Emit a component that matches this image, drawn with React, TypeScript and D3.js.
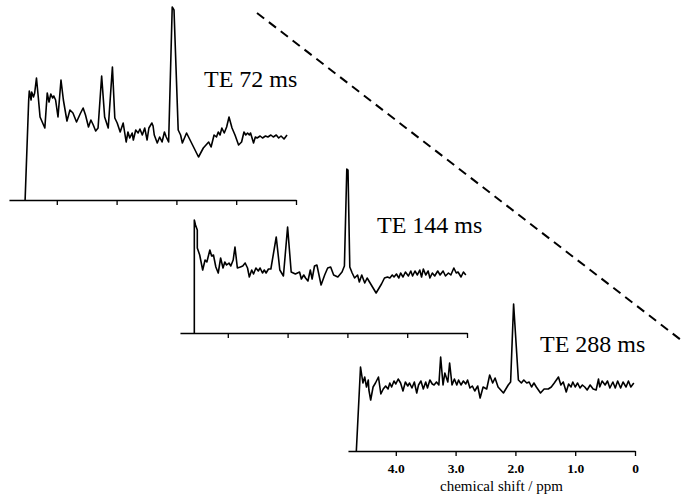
import { useEffect, useRef } from 'react';
import * as d3 from 'd3';

// [chemical shift (ppm), intensity (a.u.)]
const te72 = [
  [4.53, 0], [4.47, 100], [4.46, 109], [4.43, 100], [4.42, 108], [4.39, 103], [4.37, 107], [4.34, 122],
  [4.31, 103], [4.28, 83], [4.2, 72], [4.16, 107], [4.13, 98], [4.1, 106], [4.07, 102], [4.05, 104],
  [4.02, 100], [3.98, 83], [3.93, 120], [3.89, 100], [3.83, 79], [3.78, 90], [3.73, 87], [3.67, 78],
  [3.61, 86], [3.56, 92], [3.52, 85], [3.47, 73], [3.43, 80], [3.39, 75], [3.35, 69], [3.31, 72],
  [3.25, 124], [3.2, 83], [3.14, 72], [3.07, 133], [3.03, 82], [2.99, 77], [2.94, 68], [2.89, 77],
  [2.84, 58], [2.81, 68], [2.78, 62], [2.74, 67], [2.72, 60], [2.68, 70], [2.64, 67], [2.61, 71],
  [2.57, 65], [2.53, 72], [2.49, 60], [2.46, 72], [2.41, 77], [2.39, 74], [2.37, 65], [2.32, 57],
  [2.28, 63], [2.24, 58], [2.2, 68], [2.17, 63], [2.13, 58], [2.07, 193], [2.04, 190], [1.97, 70],
  [1.93, 65], [1.9, 57], [1.83, 67], [1.63, 43], [1.55, 52], [1.46, 58], [1.42, 53], [1.37, 65],
  [1.33, 63], [1.3, 68], [1.27, 65], [1.24, 72], [1.2, 67], [1.16, 73], [1.12, 83], [1.07, 72],
  [1.02, 65], [0.96, 55], [0.91, 58], [0.87, 68], [0.84, 65], [0.81, 67], [0.78, 65], [0.76, 67],
  [0.71, 57], [0.68, 63], [0.65, 62], [0.6, 64], [0.56, 62], [0.51, 64], [0.47, 63], [0.42, 65],
  [0.38, 63], [0.33, 65], [0.29, 62], [0.25, 64], [0.2, 61], [0.15, 65],
];

const te144 = [
  [4.56, 0], [4.56, 113], [4.54, 108], [4.51, 103], [4.51, 85], [4.47, 78], [4.42, 63], [4.38, 73],
  [4.35, 71], [4.3, 83], [4.27, 77], [4.24, 78], [4.2, 66], [4.16, 60], [4.12, 75], [4.08, 65],
  [4.05, 71], [4.02, 68], [3.98, 70], [3.95, 67], [3.91, 73], [3.88, 86], [3.84, 65], [3.79, 66],
  [3.75, 67], [3.71, 70], [3.67, 65], [3.64, 56], [3.6, 63], [3.57, 59], [3.53, 65], [3.49, 62],
  [3.46, 65], [3.42, 60], [3.39, 63], [3.36, 60], [3.32, 64], [3.28, 64], [3.19, 96], [3.13, 63],
  [3.07, 57], [3.0, 106], [2.94, 61], [2.87, 59], [2.8, 61], [2.77, 54], [2.73, 58], [2.7, 55],
  [2.66, 52], [2.62, 63], [2.59, 54], [2.55, 67], [2.51, 68], [2.44, 48], [2.38, 58], [2.33, 65],
  [2.28, 66], [2.23, 58], [2.16, 56], [2.09, 61], [2.05, 67], [2.01, 164], [1.99, 163], [1.96, 66],
  [1.92, 60], [1.88, 55], [1.83, 58], [1.8, 51], [1.76, 58], [1.71, 50], [1.67, 55], [1.6, 48],
  [1.52, 40], [1.43, 49], [1.38, 55], [1.33, 56], [1.29, 55], [1.25, 58], [1.22, 56], [1.18, 59],
  [1.14, 55], [1.11, 60], [1.07, 56], [1.03, 61], [0.98, 57], [0.94, 62], [0.91, 57], [0.87, 62],
  [0.83, 58], [0.79, 63], [0.76, 56], [0.73, 64], [0.69, 58], [0.65, 62], [0.62, 55], [0.58, 60],
  [0.54, 57], [0.49, 62], [0.45, 58], [0.4, 62], [0.36, 57], [0.31, 60], [0.27, 58], [0.22, 65],
  [0.18, 60], [0.15, 61], [0.1, 56], [0.06, 61], [0.02, 58],
];

const te288 = [
  [4.66, 0], [4.59, 84], [4.55, 68], [4.52, 74], [4.49, 64], [4.46, 71], [4.45, 61], [4.42, 51],
  [4.38, 64], [4.34, 68], [4.29, 74], [4.25, 57], [4.21, 62], [4.17, 65], [4.13, 62], [4.1, 68],
  [4.07, 64], [4.03, 70], [4.0, 67], [3.96, 72], [3.92, 68], [3.88, 60], [3.84, 69], [3.8, 65],
  [3.77, 68], [3.73, 63], [3.69, 69], [3.65, 58], [3.62, 66], [3.58, 70], [3.54, 62], [3.5, 69],
  [3.47, 63], [3.43, 71], [3.39, 67], [3.36, 66], [3.32, 69], [3.28, 66], [3.25, 94], [3.21, 66],
  [3.18, 78], [3.13, 69], [3.1, 88], [3.06, 66], [3.02, 72], [2.98, 66], [2.95, 71], [2.91, 66],
  [2.87, 70], [2.83, 67], [2.8, 71], [2.76, 63], [2.72, 65], [2.68, 60], [2.63, 65], [2.59, 53],
  [2.54, 64], [2.48, 62], [2.43, 76], [2.38, 68], [2.34, 73], [2.29, 64], [2.2, 58], [2.12, 66],
  [2.08, 69], [2.03, 147], [1.95, 71], [1.9, 68], [1.86, 71], [1.81, 68], [1.77, 69], [1.73, 64],
  [1.69, 68], [1.65, 64], [1.58, 58], [1.52, 62], [1.45, 62], [1.4, 64], [1.35, 68], [1.28, 74],
  [1.24, 66], [1.2, 69], [1.15, 59], [1.11, 67], [1.07, 64], [1.04, 69], [1.0, 64], [0.96, 68],
  [0.92, 63], [0.88, 66], [0.84, 64], [0.8, 61], [0.75, 66], [0.7, 62], [0.65, 61], [0.61, 72],
  [0.59, 64], [0.55, 70], [0.5, 66], [0.46, 70], [0.42, 63], [0.37, 69], [0.33, 63], [0.29, 70],
  [0.24, 63], [0.2, 69], [0.15, 64], [0.11, 70], [0.07, 64], [0.02, 68],
];

const echoLabels = ['TE 72 ms', 'TE 144 ms', 'TE 288 ms'];
const tickValues = [4, 3, 2, 1, 0];
const tickLabels = ['4.0', '3.0', '2.0', '1.0', '0'];
const ppmDomain = [4.8, 0];
const axisTitle = 'chemical shift / ppm';

// where each stacked panel sits on the page
const layout = [
  { zeroX: 296, axisY: 200, labelX: 204, labelY: 87 },
  { zeroX: 467, axisY: 333, labelX: 377, labelY: 233 },
  { zeroX: 635, axisY: 451, labelX: 540, labelY: 352 },
];

const W = 681;
const H = 496;
const pxPerPpm = 59.8;
const serif = '"Liberation Serif", "Times New Roman", serif';

const App = () => {
  const ref = useRef<SVGSVGElement | null>(null);

  useEffect(() => {
    const svg = d3.select(ref.current);
    svg.selectAll('*').remove();

    const spectra = [te72, te144, te288];

    spectra.forEach((data, i) => {
      const p = layout[i];
      const x = d3.scaleLinear()
        .domain(ppmDomain)
        .range([p.zeroX - ppmDomain[0] * pxPerPpm, p.zeroX]);
      const y = d3.scaleLinear().domain([0, 200]).range([p.axisY, p.axisY - 200]);

      const last = i === spectra.length - 1;
      const axis = d3.axisBottom(x)
        .tickValues(tickValues)
        .tickSize(5)
        .tickSizeOuter(0)
        .tickFormat((d, k) => (last ? tickLabels[k] : ''));

      const g = svg.append('g')
        .attr('transform', `translate(0,${p.axisY})`)
        .call(axis);
      g.select('.domain').attr('stroke', '#000').attr('stroke-width', 1.3);
      g.selectAll('.tick line').attr('stroke', '#000').attr('stroke-width', 1.3);
      g.selectAll('.tick text')
        .attr('fill', '#000')
        .attr('font-family', serif)
        .attr('font-size', 13.5)
        .attr('font-weight', 'bold')
        .attr('dy', '1.0em');

      const line = d3.line<number[]>()
        .x(d => x(d[0]))
        .y(d => y(d[1]));

      svg.append('path')
        .datum(data)
        .attr('fill', 'none')
        .attr('stroke', '#000')
        .attr('stroke-width', 1.6)
        .attr('stroke-linejoin', 'round')
        .attr('d', line);

      svg.append('text')
        .attr('x', p.labelX)
        .attr('y', p.labelY)
        .attr('font-family', serif)
        .attr('font-size', 24)
        .attr('fill', '#000')
        .text(echoLabels[i]);

      if (last) {
        svg.append('text')
          .attr('x', (x(ppmDomain[0]) + x(0)) / 2 + 10)
          .attr('y', p.axisY + 40)
          .attr('text-anchor', 'middle')
          .attr('font-family', serif)
          .attr('font-size', 15)
          .attr('fill', '#000')
          .text(axisTitle);
      }
    });

    // dashed guide across the stack
    svg.append('line')
      .attr('x1', 257)
      .attr('y1', 13)
      .attr('x2', W)
      .attr('y2', 340)
      .attr('stroke', '#000')
      .attr('stroke-width', 2)
      .attr('stroke-dasharray', '9,6');
  }, []);

  return (
    <svg
      ref={ref}
      width={W}
      height={H}
      style={{ position: 'absolute', left: 0, top: 0, background: '#fff' }}
    />
  );
};

export default App;
